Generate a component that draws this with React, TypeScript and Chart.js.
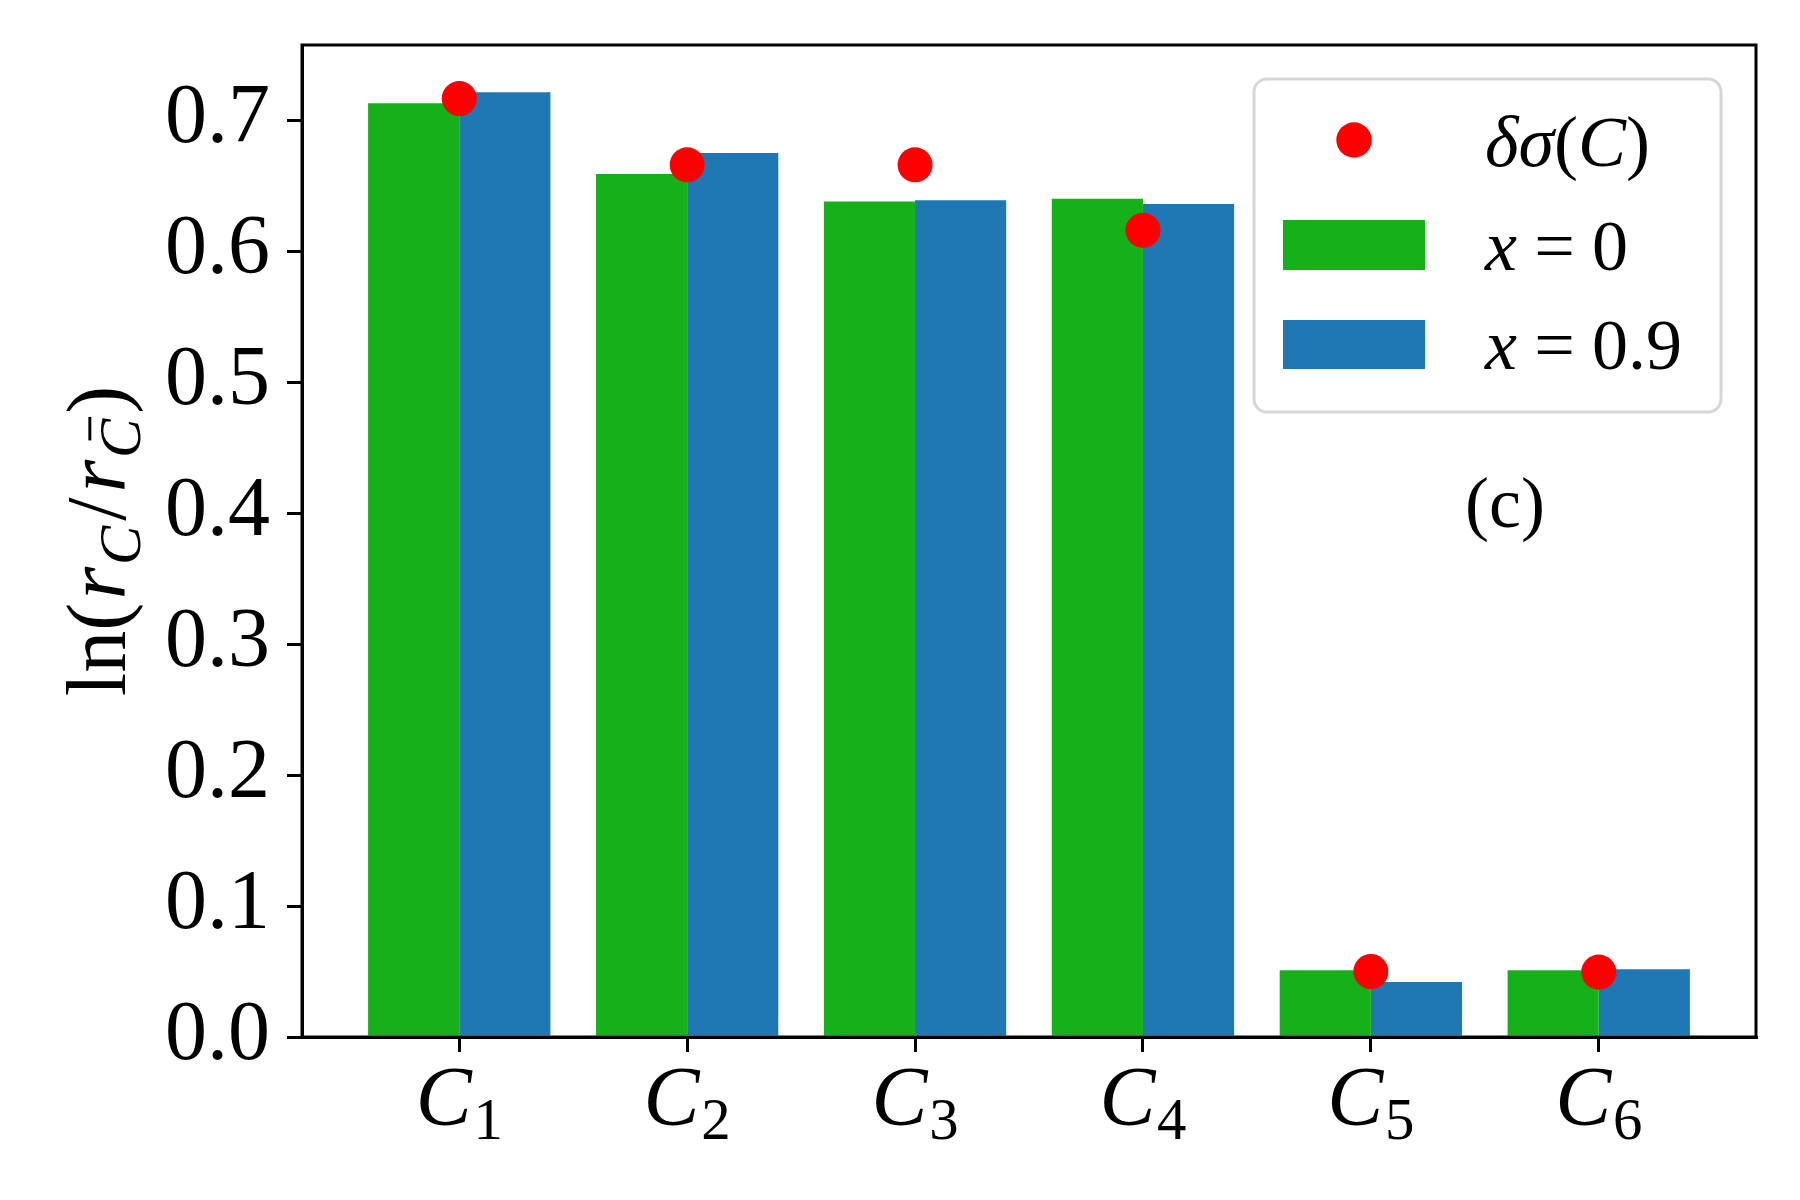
import React, { useEffect, useRef } from 'react';
import { Chart, registerables } from 'chart.js';

Chart.register(...registerables);

// ---------- data ----------
const categories = ['1', '2', '3', '4', '5', '6'];
const seriesX0 = [0.713, 0.659, 0.638, 0.640, 0.051, 0.051];
const seriesX09 = [0.7215, 0.675, 0.639, 0.636, 0.042, 0.0517];
const deltaSigma = [0.7166, 0.666, 0.666, 0.616, 0.050, 0.0496];
const xValues = ['0', '0.9'];
const yTickStep = 0.1;
const yMax = 0.7575;

// ---------- style ----------
const GREEN = '#15b01a';
const BLUE = '#1f77b4';
const RED = '#ff0000';
const FAMILY = "'Liberation Serif', 'DejaVu Serif', serif";

type Run = { t: string; it?: boolean; s?: number; dy?: number; gap?: number; bar?: boolean };

function fontOf(r: Run, size: number) {
  return `${r.it ? 'italic ' : ''}${size * (r.s ?? 1)}px ${FAMILY}`;
}

function drawMath(
  ctx: CanvasRenderingContext2D,
  runs: Run[],
  x: number,
  y: number,
  size: number,
  align: 'left' | 'center' | 'right'
) {
  const widths: number[] = [];
  let total = 0;
  for (const r of runs) {
    ctx.font = fontOf(r, size);
    const w = ctx.measureText(r.t).width;
    widths.push(w);
    total += (r.gap ?? 0) * size + w;
  }
  let cx = align === 'center' ? x - total / 2 : align === 'right' ? x - total : x;
  ctx.textBaseline = 'alphabetic';
  ctx.textAlign = 'left';
  runs.forEach((r, i) => {
    cx += (r.gap ?? 0) * size;
    ctx.font = fontOf(r, size);
    const by = y + (r.dy ?? 0) * size;
    ctx.fillText(r.t, cx, by);
    if (r.bar) {
      const fs = size * (r.s ?? 1);
      ctx.fillRect(cx + 0.3 * fs, by - 0.88 * fs, 0.4 * fs, Math.max(2.5, fs * 0.05));
    }
    cx += widths[i];
  });
}

const overlayPlugin = {
  id: 'overlay',
  afterDraw(chart: any) {
    const ctx: CanvasRenderingContext2D = chart.ctx;
    const { left, right, top, bottom } = chart.chartArea;
    ctx.save();
    // frame (all four spines)
    ctx.strokeStyle = '#000';
    ctx.lineWidth = 3;
    ctx.strokeRect(left, top, right - left, bottom - top);

    ctx.fillStyle = '#000';
    // x tick labels C_i
    const xs = chart.scales.x;
    categories.forEach((c, i) => {
      const px = xs.getPixelForValue(i);
      drawMath(ctx, [{ t: 'C', it: true }, { t: c, s: 0.7, dy: 0.17, gap: 0.02 }], px, 1125, 84, 'center');
    });

    // y label ln(r_C / r_Cbar)
    ctx.save();
    ctx.translate(125, (top + bottom) / 2);
    ctx.rotate(-Math.PI / 2);
    drawMath(
      ctx,
      [
        { t: 'ln(' },
        { t: 'r', it: true, gap: 0.04 },
        { t: 'C', it: true, s: 0.7, dy: 0.18, gap: 0.02 },
        { t: '/', gap: 0.06 },
        { t: 'r', it: true, gap: 0.06 },
        { t: 'C', it: true, s: 0.7, dy: 0.18, bar: true, gap: 0.02 },
        { t: ')', gap: 0.06 },
      ],
      0,
      0,
      84,
      'center'
    );
    ctx.restore();

    // legend box
    const bx = 1254, by = 79, bw = 1721 - 1254, bh = 412 - 79, rad = 13;
    ctx.beginPath();
    ctx.moveTo(bx + rad, by);
    ctx.arcTo(bx + bw, by, bx + bw, by + bh, rad);
    ctx.arcTo(bx + bw, by + bh, bx, by + bh, rad);
    ctx.arcTo(bx, by + bh, bx, by, rad);
    ctx.arcTo(bx, by, bx + bw, by, rad);
    ctx.closePath();
    ctx.fillStyle = 'rgba(255,255,255,0.8)';
    ctx.fill();
    ctx.strokeStyle = '#d6d6d6';
    ctx.lineWidth = 3;
    ctx.stroke();

    // legend handles
    ctx.fillStyle = RED;
    ctx.beginPath();
    ctx.arc(1354, 140, 17.7, 0, Math.PI * 2);
    ctx.fill();
    ctx.fillStyle = GREEN;
    ctx.fillRect(1283, 220, 142, 50);
    ctx.fillStyle = BLUE;
    ctx.fillRect(1283, 320, 142, 49);

    // legend labels
    ctx.fillStyle = '#000';
    drawMath(
      ctx,
      [{ t: 'δ', it: true }, { t: 'σ', it: true }, { t: '(' }, { t: 'C', it: true }, { t: ')' }],
      1485,
      166,
      72,
      'left'
    );
    drawMath(ctx, [{ t: 'x', it: true }, { t: '=', gap: 0.24 }, { t: xValues[0], gap: 0.24 }], 1485, 270, 72, 'left');
    drawMath(ctx, [{ t: 'x', it: true }, { t: '=', gap: 0.24 }, { t: xValues[1], gap: 0.24 }], 1485, 369, 72, 'left');

    // panel tag
    drawMath(ctx, [{ t: '(c)' }], 1505, 527, 72, 'center');
    ctx.restore();
  },
};

export default function App() {
  const ref = useRef<HTMLCanvasElement | null>(null);

  useEffect(() => {
    const canvas = ref.current;
    if (!canvas) return;
    const gridCfg = {
      offset: false,
      drawOnChartArea: false,
      drawTicks: true,
      tickLength: 15,
      tickWidth: 3,
      lineWidth: 3,
      color: '#000',
      tickColor: '#000',
    };
    const chart = new Chart(canvas, {
      type: 'bar',
      data: {
        datasets: [
          {
            type: 'scatter',
            label: 'δσ(C)',
            data: deltaSigma.map((v, i) => ({ x: i, y: v })),
            backgroundColor: RED,
            borderWidth: 0,
            pointRadius: 17.5,
            pointHoverRadius: 17.5,
            order: 0,
          } as any,
          {
            type: 'bar',
            label: 'x = 0',
            data: seriesX0.map((v, i) => ({ x: i, y: v })),
            backgroundColor: GREEN,
            borderWidth: 0,
            categoryPercentage: 0.8,
            barPercentage: 1.0,
            order: 1,
          } as any,
          {
            type: 'bar',
            label: 'x = 0.9',
            data: seriesX09.map((v, i) => ({ x: i, y: v })),
            backgroundColor: BLUE,
            borderWidth: 0,
            categoryPercentage: 0.8,
            barPercentage: 1.0,
            order: 1,
          } as any,
        ],
      },
      options: {
        responsive: false,
        animation: false,
        devicePixelRatio: 1,
        events: [],
        layout: { padding: { top: 45, right: 44, left: 0, bottom: 0 } },
        plugins: { legend: { display: false }, tooltip: { enabled: false } },
        scales: {
          x: {
            type: 'linear',
            min: -0.69,
            max: 5.69,
            offset: false,
            ticks: {
              stepSize: 1,
              includeBounds: false,
              autoSkip: false,
              maxRotation: 0,
              callback: () => '',
            },
            grid: gridCfg,
            border: { display: true, color: '#000', width: 3 },
            afterFit: (s: any) => {
              s.height = 163;
              s.paddingLeft = 0;
              s.paddingRight = 0;
            },
          },
          y: {
            type: 'linear',
            min: 0,
            max: yMax,
            ticks: {
              stepSize: yTickStep,
              includeBounds: false,
              color: '#000',
              padding: 17,
              font: { family: FAMILY, size: 84, lineHeight: 1 },
              callback: (v: any) => Number(v).toFixed(1),
            },
            grid: gridCfg,
            border: { display: true, color: '#000', width: 3 },
            afterFit: (s: any) => {
              s.width = 302;
              s.paddingTop = 0;
              s.paddingBottom = 0;
            },
          },
        },
      } as any,
      plugins: [overlayPlugin],
    });
    return () => chart.destroy();
  }, []);

  return (
    <div style={{ position: 'fixed', left: 0, top: 0, width: 1800, height: 1200, background: '#fff' }}>
      <canvas ref={ref} width={1800} height={1200} style={{ width: 1800, height: 1200, display: 'block' }} />
    </div>
  );
}
